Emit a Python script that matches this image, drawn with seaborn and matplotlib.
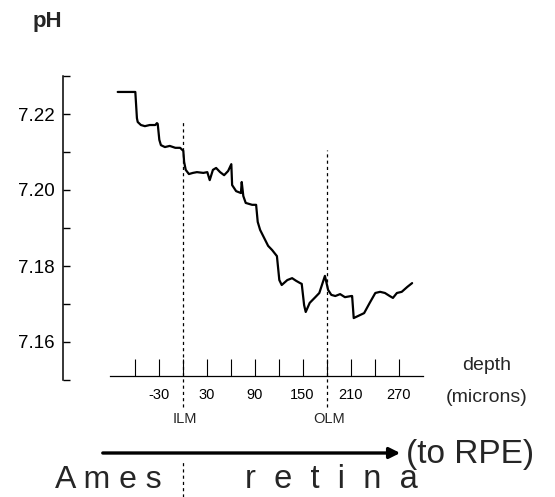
import matplotlib
matplotlib.use("Agg")
import matplotlib.pyplot as plt
import seaborn as sns
import pandas as pd
from matplotlib.ticker import FixedLocator, NullFormatter

# ---------------- data ----------------
depth_um = [-81, -59, -57, -56, -52, -47, -41, -34, -32, -31, -29, -27, -22, -16, -9, -3,
            1, 2, 4, 8, 13, 18, 26, 31, 34, 38, 42, 47, 52, 57, 61, 62, 67, 73, 74, 76,
            79, 87, 92, 94, 97, 102, 107, 112, 118, 121, 124, 131, 137, 142, 147, 149,
            152, 154, 159, 166, 171, 178, 182, 186, 191, 197, 203, 211, 212, 214, 219,
            227, 234, 241, 247, 253, 259, 263, 268, 274, 281, 287]
ph_values = [7.2258, 7.2258, 7.2189, 7.2179, 7.2171, 7.2168, 7.2171, 7.2171, 7.2176, 7.2174,
             7.2132, 7.2118, 7.2113, 7.2116, 7.2111, 7.2111, 7.2103, 7.2074, 7.2053, 7.2042,
             7.2045, 7.2047, 7.2045, 7.2047, 7.2026, 7.2053, 7.2058, 7.2047, 7.2039, 7.2050,
             7.2068, 7.2013, 7.1997, 7.1992, 7.2021, 7.1984, 7.1966, 7.1961, 7.1961, 7.1916,
             7.1895, 7.1874, 7.1853, 7.1842, 7.1826, 7.1763, 7.1750, 7.1763, 7.1768, 7.1761,
             7.1755, 7.1753, 7.1697, 7.1679, 7.1703, 7.1718, 7.1729, 7.1774, 7.1737, 7.1724,
             7.1721, 7.1726, 7.1718, 7.1721, 7.1721, 7.1663, 7.1668, 7.1676, 7.1703, 7.1729,
             7.1732, 7.1729, 7.1721, 7.1716, 7.1729, 7.1732, 7.1745, 7.1755]

y_major_ticks = [7.16, 7.18, 7.20, 7.22]
y_minor_ticks = [7.15, 7.17, 7.19, 7.21, 7.23]
x_major_ticks = [-30, 30, 90, 150, 210, 270]
x_minor_ticks = [-60, 0, 60, 120, 180, 240]
landmarks = ["ILM", "OLM"]
landmark_depth = [0, 180]

# ---------------- style ----------------
sns.set_theme(style="white")
plt.rcParams["font.family"] = ["Liberation Sans", "DejaVu Sans"]

W, H = 555, 497
fig = plt.figure(figsize=(W / 100, H / 100), dpi=100)
ax = fig.add_axes([63 / W, (H - 380) / H, 360 / W, 304 / H])
ax.set_facecolor("white")

df = pd.DataFrame({"depth": depth_um, "pH": ph_values})
sns.lineplot(data=df, x="depth", y="pH", ax=ax, color="black", lw=1.6,
             estimator=None, sort=False)

ax.set_xlim(-149.4, 300.6)
ax.set_ylim(7.15, 7.23)
ax.set_xlabel("")
ax.set_ylabel("")

for s in ["top", "right"]:
    ax.spines[s].set_visible(False)
ax.spines["left"].set_bounds(7.15, 7.23)
ax.spines["left"].set_linewidth(1.1)
ax.spines["left"].set_color("black")
ax.spines["bottom"].set_position(("data", 7.1511))
ax.spines["bottom"].set_bounds(-90.6, 300.6)
ax.spines["bottom"].set_linewidth(0.9)
ax.spines["bottom"].set_color("black")

ax.yaxis.set_major_locator(FixedLocator(y_major_ticks))
ax.yaxis.set_minor_locator(FixedLocator(y_minor_ticks))
ax.set_yticklabels([f"{v:.2f}" for v in y_major_ticks])
ax.tick_params(axis="y", which="both", direction="in", length=5, width=1.0,
               left=True, labelsize=13.5, pad=6, colors="black")

ax.xaxis.set_major_locator(FixedLocator(x_major_ticks))
ax.xaxis.set_minor_locator(FixedLocator(x_minor_ticks))
ax.xaxis.set_minor_formatter(NullFormatter())
ax.set_xticklabels([str(v) for v in x_major_ticks])
ax.tick_params(axis="x", which="both", direction="in", length=12.5, width=0.8,
               bottom=True, labelsize=10.5, pad=9, colors="black")

# landmark dashed lines and labels
line_tops = [7.2184, 7.2105]
for name, d, top in zip(landmarks, landmark_depth, line_tops):
    ax.vlines(d, 7.1428, top, colors="black", linestyles=(0, (2.5, 2.5)),
              lw=0.9, clip_on=False)
    ax.text(d + 3, 7.1397, name, ha="center", va="center", fontsize=10.5,
            clip_on=False)

# dashed separator between Ames and retina
ax.vlines(landmark_depth[0], 7.1192, 7.1284, colors="black",
          linestyles=(0, (2.5, 2.5)), lw=0.9, clip_on=False)

# figure-level text
fig.text(47 / W, 1 - 22 / H, "pH", ha="center", va="center", fontsize=16,
         fontweight="bold")
fig.text(487 / W, 1 - 366 / H, "depth", ha="center", va="center", fontsize=14)
fig.text(487 / W, 1 - 397 / H, "(microns)", ha="center", va="center", fontsize=14)

fig.add_artist(matplotlib.patches.FancyArrowPatch(
    (100 / W, 1 - 453 / H), (403 / W, 1 - 453 / H), transform=fig.transFigure,
    arrowstyle="-|>", mutation_scale=16, lw=2.4, color="black"))
fig.text(406 / W, 1 - 455 / H, "(to RPE)", ha="left", va="center", fontsize=24)

fig.text(55 / W, 1 - 480 / H, "A m e s", ha="left", va="center", fontsize=23)
fig.text(245 / W, 1 - 480 / H, "r  e  t  i  n  a", ha="left", va="center", fontsize=23.5)

fig.savefig("out.png", dpi=100, facecolor="white")
